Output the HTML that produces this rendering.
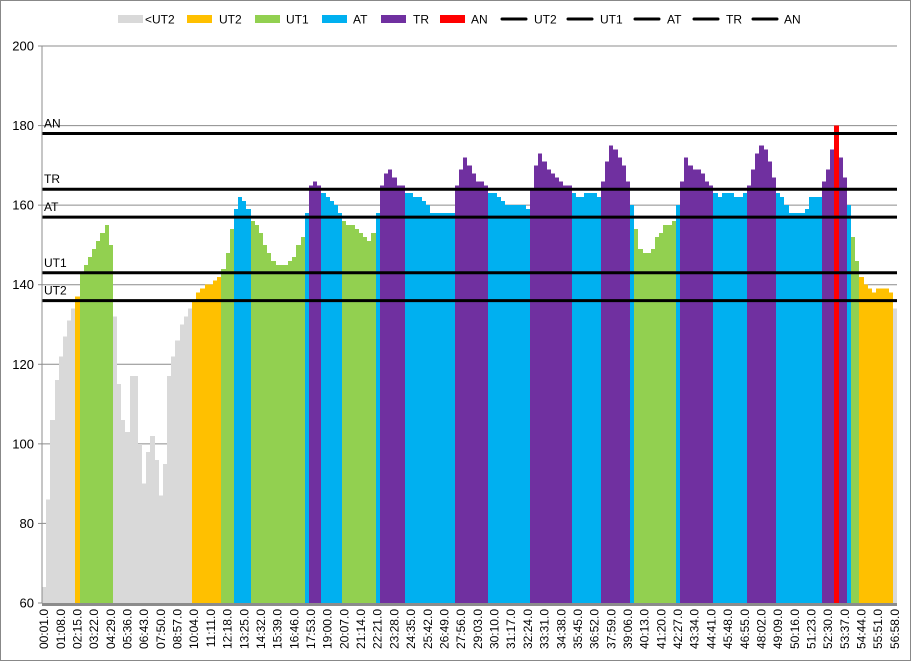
<!DOCTYPE html>
<html><head><meta charset="utf-8"><style>
html,body{margin:0;padding:0;background:#fff;}
svg{display:block;font-family:"Liberation Sans",sans-serif;}
</style></head><body>
<svg id="chart" width="911" height="661" viewBox="0 0 911 661">
<rect x="0.5" y="0.5" width="910" height="660" fill="#fff" stroke="#888"/>
<g id="grid"></g>
<g id="bars" shape-rendering="crispEdges"></g>
<g id="thresholds"></g>
<g id="axes"></g>
<g id="legend"></g>
</svg>
<script>
const hrValues = [64,86,106,116,122,127,131,134,137,143,
145,147,149,151,153,155,150,132,115,106,
103,117,117,100,90,98,102,96,87,95,
117,122,126,130,132,134,136,138,139,140,
140,141,142,144,148,154,159,162,161,159,
156,155,153,150,148,146,145,145,145,146,
147,150,152,158,165,166,165,163,162,161,
160,158,156,155,155,154,153,152,151,153,
158,165,168,169,167,165,165,163,163,162,
162,161,160,158,158,158,158,158,158,165,
169,172,170,168,166,166,165,163,163,162,
161,160,160,160,160,160,159,164,170,173,
171,169,168,167,166,165,165,163,162,162,
163,163,163,162,166,171,175,174,172,170,
166,160,154,149,148,148,149,152,153,155,
155,156,160,166,172,170,169,169,168,166,
165,163,162,163,163,163,162,162,163,165,
169,173,175,174,171,167,163,162,160,158,
158,158,158,159,162,162,162,166,169,174,
180,172,167,160,152,146,142,140,139,138,
139,139,139,138,134];
const segStarts = [0,8,9,17,36,43,46,50,63,64,67,72,80,81,87,99,107,117,127,134,141,142,152,153,161,169,176,187,190,191,193,194,196,204];
const segZones = ['lt','ut2','ut1','lt','ut2','ut1','at','ut1','at','tr','at','ut1','at','tr','at','tr','at','tr','at','tr','at','ut1','at','tr','at','tr','at','tr','an','tr','at','ut1','ut2','lt'];
const thresholdNames = ['UT2','UT1','AT','TR','AN'];
const thresholdValues = [136,143,157,164,178];
const yTicks = [60,80,100,120,140,160,180,200];
const timeLabels = ['00:01.0','01:08.0','02:15.0','03:22.0','04:29.0','05:36.0','06:43.0','07:50.0','08:57.0','10:04.0','11:11.0','12:18.0','13:25.0','14:32.0','15:39.0','16:46.0','17:53.0','19:00.0','20:07.0','21:14.0','22:21.0','23:28.0','24:35.0','25:42.0','26:49.0','27:56.0','29:03.0','30:10.0','31:17.0','32:24.0','33:31.0','34:38.0','35:45.0','36:52.0','37:59.0','39:06.0','40:13.0','41:20.0','42:27.0','43:34.0','44:41.0','45:48.0','46:55.0','48:02.0','49:09.0','50:16.0','51:23.0','52:30.0','53:37.0','54:44.0','55:51.0','56:58.0'];

const colors = {lt:'#d9d9d9',ut2:'#ffc000',ut1:'#92d050',at:'#00b0f0',tr:'#7030a0',an:'#ff0000'};
const NS='http://www.w3.org/2000/svg';
const X0=42, X1=897, Y0=603, Y1=46;
const bw=(X1-X0)/hrValues.length;
function xPos(i){return X0+i*bw;}
function yPos(v){return Y0-(v-60)*(Y0-Y1)/140;}
function mk(tag,attrs,parent){const e=document.createElementNS(NS,tag);for(const k in attrs)e.setAttribute(k,attrs[k]);parent.appendChild(e);return e;}
function zoneOf(i){let z='lt';for(let s=0;s<segStarts.length;s++){if(i>=segStarts[s])z=segZones[s];}return z;}

const grid=document.getElementById('grid');
yTicks.forEach(t=>{
  const l=mk('line',{x1:X0,x2:X1,y1:yPos(t),y2:yPos(t),stroke:'#8c8c8c','stroke-width':1},grid);
  
  
});

const bars=document.getElementById('bars');
hrValues.forEach((v,i)=>{
  const y=yPos(v);
  const x0=Math.round(xPos(i)), x1=Math.round(xPos(i+1));
  const r=mk('rect',{x:x0,y:y.toFixed(2),width:x1-x0,height:(Y0-y).toFixed(2),fill:colors[zoneOf(i)]},bars);
  
  
});

const th=document.getElementById('thresholds');
thresholdValues.forEach((v,k)=>{
  const l=mk('line',{x1:X0,x2:X1,y1:yPos(v),y2:yPos(v),stroke:'#000','stroke-width':3},th);
  
  
  const t=mk('text',{x:44,y:yPos(v)-6,'font-size':12,fill:'#000'},th);
  t.textContent=thresholdNames[k];
  
  
});

const axes=document.getElementById('axes');
const ya=mk('line',{x1:X0,x2:X0,y1:Y1,y2:Y0,stroke:'#8c8c8c','stroke-width':1},axes);


const xa=mk('line',{x1:X0,x2:X1,y1:Y0+1.5,y2:Y0+1.5,stroke:'#8c8c8c','stroke-width':3},axes);


yTicks.forEach(t=>{
  mk('line',{x1:X0-4,x2:X0,y1:yPos(t),y2:yPos(t),stroke:'#8c8c8c'},axes);
  const tx=mk('text',{x:X0-8,y:yPos(t)+4.5,'font-size':13,'text-anchor':'end',fill:'#000'},axes);
  tx.textContent=t;
  
  
});
timeLabels.forEach((lab,k)=>{
  const cx=xPos(k*4)+bw/2;
  const tx=mk('text',{x:0,y:0,'font-size':12,'text-anchor':'end',fill:'#000',transform:`translate(${(cx+4).toFixed(1)},609) rotate(-90)`},axes);
  tx.textContent=lab;
  
  
});

const legend=document.getElementById('legend');
const legItems=[['rect','#d9d9d9','<UT2',118,145],['rect','#ffc000','UT2',187,219],['rect','#92d050','UT1',255,286],['rect','#00b0f0','AT',322,353],['rect','#7030a0','TR',381,413],['rect','#ff0000','AN',440,471],
['line','#000','UT2',501,534],['line','#000','UT1',567,600],['line','#000','AT',634,667],['line','#000','TR',693,726],['line','#000','AN',752,784]];
legItems.forEach(it=>{
  const g=mk('g',{},legend);
  
  
  if(it[0]==='rect') mk('rect',{x:it[3],y:15,width:25,height:8,fill:it[1]},g);
  else mk('line',{x1:it[3]+1,x2:it[3]+25,y1:19,y2:19,stroke:'#000','stroke-width':3,'stroke-linecap':'round'},g);
  const t=mk('text',{x:it[4],y:23.5,'font-size':12,fill:'#000'},g);
  t.textContent=it[2];
});
</script>
</body></html>
